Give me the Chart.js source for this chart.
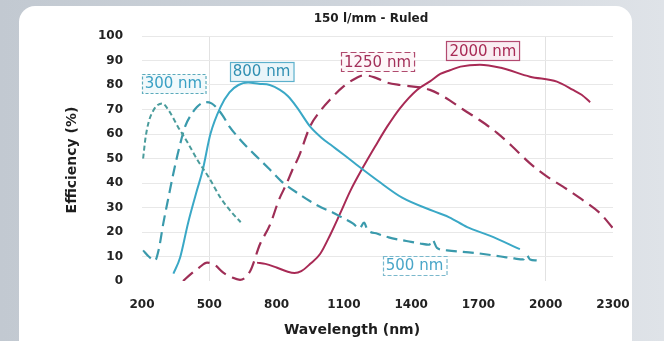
<!DOCTYPE html>
<html><head><meta charset="utf-8">
<script src="https://cdn.jsdelivr.net/npm/chart.js@4/dist/chart.umd.min.js"></script>
<style>
html,body{margin:0;padding:0;width:664px;height:341px;overflow:hidden;background:linear-gradient(90deg,#c2c9d1 0%,#cfd5dc 55%,#dfe3e8 100%);}
#card{position:absolute;left:19px;top:6px;width:613px;height:370px;background:#fff;border-radius:16px;}
#wrap{position:absolute;left:0;top:0;width:664px;height:341px;}
</style></head><body>
<div id="card"></div>
<div id="wrap"><canvas id="c" width="664" height="341"></canvas></div>
<script>
// ---- data ----
const xTicks = [200, 500, 800, 1100, 1400, 1700, 2000, 2300];
const yTicks = [0, 10, 20, 30, 40, 50, 60, 70, 80, 90, 100];

const wl300 = [205, 215, 230, 250, 270, 290, 320, 360, 400, 450, 500, 550, 600, 640];
const ef300 = [50, 58, 65, 69.5, 71.8, 72.5, 69.5, 63, 57, 49, 42, 34, 28, 24];

const wl500 = [205, 230, 258, 275, 295, 320, 340, 365, 392, 420, 445, 465, 485, 510, 535, 560, 590, 630, 670, 720, 770, 830, 900, 960, 1000, 1050, 1090, 1140, 1170, 1190, 1205, 1250, 1300, 1350, 1400, 1440, 1480, 1495, 1515, 1560, 1680, 1800, 1860, 1900, 1915, 1930, 1960];
const ef500 = [12.5, 10, 8.4, 13, 23.5, 35, 44, 54, 63, 68, 71, 72.5, 73, 72.5, 70.5, 67.5, 63, 58.5, 54.5, 50, 45.5, 40, 35.5, 32, 30, 28, 26, 23.5, 21.5, 23.8, 21, 19.3, 17.8, 16.8, 16, 15.3, 14.8, 16.8, 13.5, 12.5, 11.5, 10, 9.2, 8.8, 10.6, 8.8, 8.4];

const wl800 = [340, 370, 405, 445, 470, 505, 550, 590, 630, 673, 720, 770, 815, 850, 890, 950, 1000, 1050, 1100, 1170, 1250, 1360, 1500, 1570, 1650, 1750, 1885];
const ef800 = [3, 9.6, 23.5, 37, 45, 60, 71, 77, 80, 81, 80.5, 80, 78, 75.5, 71, 63, 58.5, 55, 51.5, 46.5, 41, 34, 28.5, 26, 22, 18.5, 13];

const wl1250 = [383, 420, 455, 490, 525, 561, 600, 637, 682, 726, 771, 810, 846, 869, 900, 949, 1000, 1038, 1100, 1158, 1190, 1240, 1293, 1350, 1440, 1484, 1550, 1632, 1700, 1783, 1850, 1930, 2000, 2077, 2150, 2243, 2300];
const ef1250 = [0, 3, 5.5, 7.5, 6.5, 3.5, 1.5, 0.5, 4, 15, 23, 33, 40, 45, 51, 63, 70, 74, 79.5, 83, 84, 83, 81, 80, 79, 78, 75, 70, 66, 60.5, 55, 48, 43, 38.5, 34, 27.6, 21.5];

const wl2000 = [713, 750, 800, 850, 880, 910, 950, 994, 1040, 1083, 1130, 1186, 1240, 1293, 1350, 1426, 1484, 1530, 1573, 1620, 1707, 1800, 1930, 2050, 2122, 2160, 2198];
const ef2000 = [7.5, 7, 5.5, 3.8, 3.3, 4, 7, 11, 19, 27.5, 37, 46.5, 55, 63, 70.5, 78, 81.5, 84.5, 86, 87.5, 88.3, 87, 83.4, 81.4, 78, 76, 73];

const seriesNames = ['300 nm', '500 nm', '800 nm', '1250 nm', '2000 nm'];

const toPts = (xs, ys) => xs.map((x, i) => ({x: x, y: ys[i]}));

const FONT = "'DejaVu Sans', 'Liberation Sans', sans-serif";

const textPlugin = {
  id: 'texts',
  afterDatasetsDraw(chart, args, opts) {
    const ctx = chart.ctx, xs = chart.scales.x, ys = chart.scales.y;
    opts.boxes.forEach(b => {
      const cx = xs.getPixelForValue(b.wl), cy = ys.getPixelForValue(b.eff);
      ctx.save();
      ctx.font = '15px ' + FONT;
      const w = ctx.measureText(b.text).width + 6, h = 19;
      const x0 = Math.round(cx - w / 2) + 0.5, y0 = Math.round(cy - h / 2) + 0.5;
      ctx.fillStyle = b.fill;
      ctx.fillRect(x0, y0, w, h);
      ctx.strokeStyle = b.border;
      ctx.lineWidth = 1.2;
      ctx.setLineDash(b.dash);
      ctx.strokeRect(x0, y0, w, h);
      ctx.setLineDash([]);
      ctx.fillStyle = b.color;
      ctx.textAlign = 'center';
      ctx.textBaseline = 'middle';
      ctx.fillText(b.text, cx, cy + 1);
      ctx.restore();
    });
  },
  afterDraw(chart) {
    const ctx = chart.ctx;
    ctx.save();
    ctx.fillStyle = '#1e1e1e';
    ctx.textAlign = 'center';
    ctx.textBaseline = 'middle';
    ctx.font = 'bold 12px ' + FONT;
    ctx.fillText('150 l/mm - Ruled', 371, 19);
    ctx.font = 'bold 14px ' + FONT;
    ctx.fillText('Wavelength (nm)', 352, 330);
    ctx.translate(72, 160);
    ctx.rotate(-Math.PI / 2);
    ctx.fillText('Efficiency (%)', 0, 0);
    ctx.restore();
  }
};

const tickFont = {family: FONT, weight: 'bold', size: 12};

new Chart(document.getElementById('c'), {
  type: 'line',
  data: {
    datasets: [
      {label: seriesNames[0], data: toPts(wl300, ef300), borderColor: '#4a9c9c', borderDash: [5, 3], borderWidth: 2},
      {label: seriesNames[1], data: toPts(wl500, ef500), borderColor: '#3a9aac', borderDash: [11, 6], borderWidth: 2.2},
      {label: seriesNames[2], data: toPts(wl800, ef800), borderColor: '#3aa8c6', borderWidth: 2},
      {label: seriesNames[3], data: toPts(wl1250, ef1250), borderColor: '#9e2e56', borderDash: [13, 7], borderWidth: 2.2},
      {label: seriesNames[4], data: toPts(wl2000, ef2000), borderColor: '#a82a55', borderWidth: 2}
    ]
  },
  options: {
    responsive: false,
    animation: false,
    devicePixelRatio: 1,
    layout: {padding: {left: 0, right: 51, top: 36, bottom: 0}},
    elements: {point: {radius: 0}, line: {cubicInterpolationMode: 'monotone', fill: false}},
    plugins: {
      legend: {display: false},
      tooltip: {enabled: false},
      texts: {
        boxes: [
          {text: seriesNames[0], wl: 340, eff: 80.7, color: '#3aa0c4', border: '#5aaabb', fill: '#f2f9fb', dash: [3, 2]},
          {text: seriesNames[2], wl: 733, eff: 85.7, color: '#2f8fb2', border: '#5cb0cc', fill: '#eaf5f9', dash: []},
          {text: seriesNames[3], wl: 1250, eff: 89.5, color: '#a3305a', border: '#b04a6e', fill: '#fdf6f8', dash: [6, 3]},
          {text: seriesNames[4], wl: 1720, eff: 94, color: '#a82a55', border: '#b24a70', fill: '#f9edf2', dash: []},
          {text: seriesNames[1], wl: 1415, eff: 6.4, color: '#4aa6c8', border: '#7ab8cc', fill: '#ffffff', dash: [4, 2]}
        ]
      }
    },
    scales: {
      x: {
        type: 'linear', min: 200, max: 2300,
        afterBuildTicks: s => { s.ticks = xTicks.map(v => ({value: v})); },
        afterFit: s => { s.height = 60; },
        grid: {drawTicks: false, color: c => (c.tick && (c.tick.value === 500 || c.tick.value === 2000)) ? '#e2e2e2' : 'rgba(0,0,0,0)'},
        border: {display: false},
        ticks: {autoSkip: false, maxRotation: 0, padding: 17, color: '#222', font: tickFont, callback: v => String(v)}
      },
      y: {
        type: 'linear', min: 0, max: 100,
        afterBuildTicks: s => { s.ticks = yTicks.map(v => ({value: v})); },
        afterFit: s => { s.width = 142; },
        grid: {drawTicks: false, color: c => (c.tick && c.tick.value === 0) ? 'rgba(0,0,0,0)' : '#e8e8e8'},
        border: {display: false},
        ticks: {padding: 19, color: '#222', font: tickFont, callback: v => String(v)}
      }
    }
  },
  plugins: [textPlugin]
});
</script>
</body></html>
